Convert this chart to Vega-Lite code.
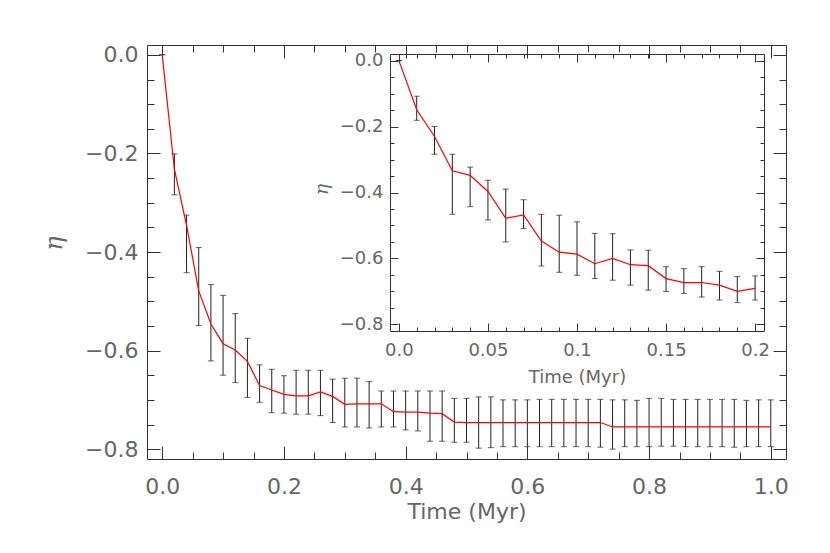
{
  "$schema": "https://vega.github.io/schema/vega-lite/v6.json",
  "autosize": {"type": "none"},
  "padding": {"left": 147, "top": 45, "right": 44, "bottom": 94},
  "width": 639,
  "height": 414,
  "background": "white",
  "config": {
    "view": {"stroke": null},
    "axis": {"grid": false, "labelFont": "DejaVu Sans", "titleFont": "DejaVu Sans", "labelColor": "#666", "titleColor": "#666", "domainColor": "#333", "tickColor": "#333", "titleFontWeight": "normal", "labelFlush": false, "labelOverlap": false}
  },
  "datasets": {
    "main": [
      {"t": 0, "eta": 0, "lo": 0, "hi": 0},
      {"t": 0.02, "eta": -0.232, "lo": -0.284, "hi": -0.201},
      {"t": 0.04, "eta": -0.346, "lo": -0.442, "hi": -0.325},
      {"t": 0.06, "eta": -0.479, "lo": -0.549, "hi": -0.391},
      {"t": 0.08, "eta": -0.546, "lo": -0.621, "hi": -0.466},
      {"t": 0.1, "eta": -0.586, "lo": -0.65, "hi": -0.488},
      {"t": 0.12, "eta": -0.599, "lo": -0.665, "hi": -0.525},
      {"t": 0.14, "eta": -0.622, "lo": -0.695, "hi": -0.575},
      {"t": 0.16, "eta": -0.671, "lo": -0.705, "hi": -0.629},
      {"t": 0.18, "eta": -0.68, "lo": -0.726, "hi": -0.638},
      {"t": 0.2, "eta": -0.689, "lo": -0.727, "hi": -0.651},
      {"t": 0.22, "eta": -0.692, "lo": -0.729, "hi": -0.64},
      {"t": 0.24, "eta": -0.692, "lo": -0.729, "hi": -0.64},
      {"t": 0.26, "eta": -0.684, "lo": -0.732, "hi": -0.64},
      {"t": 0.28, "eta": -0.693, "lo": -0.746, "hi": -0.658},
      {"t": 0.3, "eta": -0.709, "lo": -0.755, "hi": -0.656},
      {"t": 0.32, "eta": -0.708, "lo": -0.755, "hi": -0.656},
      {"t": 0.34, "eta": -0.708, "lo": -0.757, "hi": -0.663},
      {"t": 0.36, "eta": -0.708, "lo": -0.755, "hi": -0.682},
      {"t": 0.38, "eta": -0.724, "lo": -0.755, "hi": -0.682},
      {"t": 0.4, "eta": -0.725, "lo": -0.761, "hi": -0.682},
      {"t": 0.42, "eta": -0.725, "lo": -0.763, "hi": -0.682},
      {"t": 0.44, "eta": -0.727, "lo": -0.784, "hi": -0.682},
      {"t": 0.46, "eta": -0.728, "lo": -0.784, "hi": -0.682},
      {"t": 0.48, "eta": -0.745, "lo": -0.786, "hi": -0.697},
      {"t": 0.5, "eta": -0.746, "lo": -0.786, "hi": -0.697},
      {"t": 0.52, "eta": -0.746, "lo": -0.798, "hi": -0.694},
      {"t": 0.54, "eta": -0.746, "lo": -0.797, "hi": -0.694},
      {"t": 0.56, "eta": -0.746, "lo": -0.795, "hi": -0.7},
      {"t": 0.58, "eta": -0.746, "lo": -0.795, "hi": -0.7},
      {"t": 0.6, "eta": -0.746, "lo": -0.795, "hi": -0.7},
      {"t": 0.62, "eta": -0.746, "lo": -0.795, "hi": -0.699},
      {"t": 0.64, "eta": -0.746, "lo": -0.795, "hi": -0.699},
      {"t": 0.66, "eta": -0.746, "lo": -0.795, "hi": -0.699},
      {"t": 0.68, "eta": -0.746, "lo": -0.795, "hi": -0.699},
      {"t": 0.7, "eta": -0.746, "lo": -0.795, "hi": -0.699},
      {"t": 0.72, "eta": -0.746, "lo": -0.796, "hi": -0.699},
      {"t": 0.74, "eta": -0.755, "lo": -0.8, "hi": -0.7},
      {"t": 0.76, "eta": -0.755, "lo": -0.795, "hi": -0.7},
      {"t": 0.78, "eta": -0.755, "lo": -0.795, "hi": -0.701},
      {"t": 0.8, "eta": -0.755, "lo": -0.795, "hi": -0.697},
      {"t": 0.82, "eta": -0.755, "lo": -0.794, "hi": -0.697},
      {"t": 0.84, "eta": -0.755, "lo": -0.794, "hi": -0.699},
      {"t": 0.86, "eta": -0.755, "lo": -0.795, "hi": -0.699},
      {"t": 0.88, "eta": -0.755, "lo": -0.795, "hi": -0.699},
      {"t": 0.9, "eta": -0.755, "lo": -0.795, "hi": -0.699},
      {"t": 0.92, "eta": -0.755, "lo": -0.795, "hi": -0.699},
      {"t": 0.94, "eta": -0.755, "lo": -0.796, "hi": -0.699},
      {"t": 0.96, "eta": -0.755, "lo": -0.795, "hi": -0.701},
      {"t": 0.98, "eta": -0.755, "lo": -0.795, "hi": -0.7},
      {"t": 1.0, "eta": -0.755, "lo": -0.795, "hi": -0.7}
    ],
    "inset": [
      {"t": 0, "eta": 0, "lo": 0, "hi": 0},
      {"t": 0.01, "eta": -0.149, "lo": -0.181, "hi": -0.108},
      {"t": 0.02, "eta": -0.23, "lo": -0.284, "hi": -0.2},
      {"t": 0.03, "eta": -0.334, "lo": -0.466, "hi": -0.284},
      {"t": 0.04, "eta": -0.348, "lo": -0.443, "hi": -0.323},
      {"t": 0.05, "eta": -0.397, "lo": -0.483, "hi": -0.363},
      {"t": 0.06, "eta": -0.478, "lo": -0.55, "hi": -0.39},
      {"t": 0.07, "eta": -0.468, "lo": -0.509, "hi": -0.422},
      {"t": 0.08, "eta": -0.547, "lo": -0.623, "hi": -0.466},
      {"t": 0.09, "eta": -0.581, "lo": -0.642, "hi": -0.469},
      {"t": 0.1, "eta": -0.587, "lo": -0.651, "hi": -0.489},
      {"t": 0.11, "eta": -0.616, "lo": -0.661, "hi": -0.524},
      {"t": 0.12, "eta": -0.6, "lo": -0.666, "hi": -0.525},
      {"t": 0.13, "eta": -0.619, "lo": -0.681, "hi": -0.574},
      {"t": 0.14, "eta": -0.622, "lo": -0.696, "hi": -0.575},
      {"t": 0.15, "eta": -0.661, "lo": -0.7, "hi": -0.625},
      {"t": 0.16, "eta": -0.673, "lo": -0.706, "hi": -0.631},
      {"t": 0.17, "eta": -0.673, "lo": -0.717, "hi": -0.625},
      {"t": 0.18, "eta": -0.681, "lo": -0.726, "hi": -0.639},
      {"t": 0.19, "eta": -0.7, "lo": -0.734, "hi": -0.655},
      {"t": 0.2, "eta": -0.691, "lo": -0.726, "hi": -0.653}
    ]
  },
  "resolve": {
    "scale": {"x": "independent", "y": "independent"},
    "axis": {"x": "independent", "y": "independent"}
  },
  "layer": [
    {
      "data": {"name": "main"},
      "mark": {"type": "rule", "color": "#222", "strokeWidth": 1},
      "encoding": {
        "x": {"field": "t", "type": "quantitative",
          "scale": {"domain": [-0.025, 1.025], "nice": false, "zero": false},
          "axis": {"orient": "bottom", "values": [0, 0.2, 0.4, 0.6, 0.8, 1.0], "format": ".1f", "ticks": false, "domain": true, "labelFontSize": 22, "labelPadding": 17, "title": "Time (Myr)", "titleFontSize": 22, "titlePadding": 4}},
        "y": {"field": "lo", "type": "quantitative",
          "scale": {"domain": [-0.82, 0.02], "nice": false, "zero": false},
          "axis": {"orient": "left", "values": [-0.8, -0.6, -0.4, -0.2, 0], "format": ".1f", "ticks": false, "domain": true, "labelFontSize": 22, "labelPadding": 9, "title": "η", "titleFont": "DejaVu Serif", "titleFontStyle": "italic", "titleFontSize": 24, "titlePadding": 18, "titleY": 198}},
        "y2": {"field": "hi"}
      }
    },
    {
      "data": {"name": "main"},
      "transform": [{"fold": ["lo", "hi"], "as": ["end", "val"]}],
      "mark": {"type": "tick", "orient": "horizontal", "size": 6, "thickness": 1, "color": "#222"},
      "encoding": {
        "x": {"field": "t", "type": "quantitative",
          "scale": {"domain": [-0.025, 1.025], "nice": false, "zero": false},
          "axis": {"orient": "bottom", "values": [0, 0.05, 0.1, 0.15, 0.2, 0.25, 0.3, 0.35, 0.4, 0.45, 0.5, 0.55, 0.6, 0.65, 0.7, 0.75, 0.8, 0.85, 0.9, 0.95, 1.0], "labels": false, "domain": false, "ticks": true, "title": null,
            "tickSize": {"condition": {"test": "abs(datum.value*5 - round(datum.value*5)) < 0.000001", "value": -13}, "value": -7}}},
        "y": {"field": "val", "type": "quantitative",
          "scale": {"domain": [-0.82, 0.02], "nice": false, "zero": false},
          "axis": {"orient": "left", "values": [-0.8, -0.75, -0.7, -0.65, -0.6, -0.55, -0.5, -0.45, -0.4, -0.35, -0.3, -0.25, -0.2, -0.15, -0.1, -0.05, 0], "labels": false, "domain": false, "ticks": true, "title": null,
            "tickSize": {"condition": {"test": "abs(datum.value*5 - round(datum.value*5)) < 0.000001", "value": -13}, "value": -7}}}
      }
    },
    {
      "data": {"name": "main"},
      "mark": {"type": "line", "color": "#ff0000", "strokeWidth": 1.2},
      "encoding": {
        "x": {"field": "t", "type": "quantitative",
          "scale": {"domain": [-0.025, 1.025], "nice": false, "zero": false},
          "axis": {"orient": "top", "values": [0, 0.05, 0.1, 0.15, 0.2, 0.25, 0.3, 0.35, 0.4, 0.45, 0.5, 0.55, 0.6, 0.65, 0.7, 0.75, 0.8, 0.85, 0.9, 0.95, 1.0], "labels": false, "domain": true, "ticks": true, "title": null,
            "tickSize": {"condition": {"test": "abs(datum.value*5 - round(datum.value*5)) < 0.000001", "value": -13}, "value": -7}}},
        "y": {"field": "eta", "type": "quantitative",
          "scale": {"domain": [-0.82, 0.02], "nice": false, "zero": false},
          "axis": {"orient": "right", "values": [-0.8, -0.75, -0.7, -0.65, -0.6, -0.55, -0.5, -0.45, -0.4, -0.35, -0.3, -0.25, -0.2, -0.15, -0.1, -0.05, 0], "labels": false, "domain": true, "ticks": true, "title": null,
            "tickSize": {"condition": {"test": "abs(datum.value*5 - round(datum.value*5)) < 0.000001", "value": -13}, "value": -7}}}
      }
    },
    {
      "data": {"name": "inset"},
      "mark": {"type": "rule", "color": "#222", "strokeWidth": 1},
      "encoding": {
        "x": {"field": "t", "type": "quantitative",
          "scale": {"domain": [-0.005, 0.205], "range": [243, 617], "nice": false, "zero": false},
          "axis": {"orient": "bottom", "offset": -128, "values": [0, 0.05, 0.1, 0.15, 0.2], "labelExpr": "datum.value == 0 ? '0.0' : format(datum.value, '~g')", "ticks": false, "domain": true, "labelFontSize": 18, "labelPadding": 10, "title": "Time (Myr)", "titleFontSize": 18, "titlePadding": 9}},
        "y": {"field": "lo", "type": "quantitative",
          "scale": {"domain": [-0.82, 0.02], "range": [286, 9], "nice": false, "zero": false},
          "axis": {"orient": "left", "offset": -243, "values": [-0.8, -0.6, -0.4, -0.2, 0], "format": ".1f", "ticks": false, "domain": true, "labelFontSize": 18, "labelPadding": 7, "title": "η", "titleFont": "DejaVu Serif", "titleFontStyle": "italic", "titleFontSize": 19, "titlePadding": 8, "titleY": 144}},
        "y2": {"field": "hi"}
      }
    },
    {
      "data": {"name": "inset"},
      "transform": [{"fold": ["lo", "hi"], "as": ["end", "val"]}],
      "mark": {"type": "tick", "orient": "horizontal", "size": 6, "thickness": 1, "color": "#222"},
      "encoding": {
        "x": {"field": "t", "type": "quantitative",
          "scale": {"domain": [-0.005, 0.205], "range": [243, 617], "nice": false, "zero": false},
          "axis": {"orient": "bottom", "offset": -128, "values": [0, 0.01, 0.02, 0.03, 0.04, 0.05, 0.06, 0.07, 0.08, 0.09, 0.1, 0.11, 0.12, 0.13, 0.14, 0.15, 0.16, 0.17, 0.18, 0.19, 0.2], "labels": false, "domain": false, "ticks": true, "title": null,
            "tickSize": {"condition": {"test": "abs(datum.value*20 - round(datum.value*20)) < 0.000001", "value": -8}, "value": -4}}},
        "y": {"field": "val", "type": "quantitative",
          "scale": {"domain": [-0.82, 0.02], "range": [286, 9], "nice": false, "zero": false},
          "axis": {"orient": "left", "offset": -243, "values": [-0.8, -0.75, -0.7, -0.65, -0.6, -0.55, -0.5, -0.45, -0.4, -0.35, -0.3, -0.25, -0.2, -0.15, -0.1, -0.05, 0], "labels": false, "domain": false, "ticks": true, "title": null,
            "tickSize": {"condition": {"test": "abs(datum.value*5 - round(datum.value*5)) < 0.000001", "value": -8}, "value": -4}}}
      }
    },
    {
      "data": {"name": "inset"},
      "mark": {"type": "line", "color": "#ff0000", "strokeWidth": 1.2},
      "encoding": {
        "x": {"field": "t", "type": "quantitative",
          "scale": {"domain": [-0.005, 0.205], "range": [243, 617], "nice": false, "zero": false},
          "axis": {"orient": "top", "offset": -9, "values": [0, 0.01, 0.02, 0.03, 0.04, 0.05, 0.06, 0.07, 0.08, 0.09, 0.1, 0.11, 0.12, 0.13, 0.14, 0.15, 0.16, 0.17, 0.18, 0.19, 0.2], "labels": false, "domain": true, "ticks": true, "title": null,
            "tickSize": {"condition": {"test": "abs(datum.value*20 - round(datum.value*20)) < 0.000001", "value": -8}, "value": -4}}},
        "y": {"field": "eta", "type": "quantitative",
          "scale": {"domain": [-0.82, 0.02], "range": [286, 9], "nice": false, "zero": false},
          "axis": {"orient": "right", "offset": -22, "values": [-0.8, -0.75, -0.7, -0.65, -0.6, -0.55, -0.5, -0.45, -0.4, -0.35, -0.3, -0.25, -0.2, -0.15, -0.1, -0.05, 0], "labels": false, "domain": true, "ticks": true, "title": null,
            "tickSize": {"condition": {"test": "abs(datum.value*5 - round(datum.value*5)) < 0.000001", "value": -8}, "value": -4}}}
      }
    }
  ]
}
